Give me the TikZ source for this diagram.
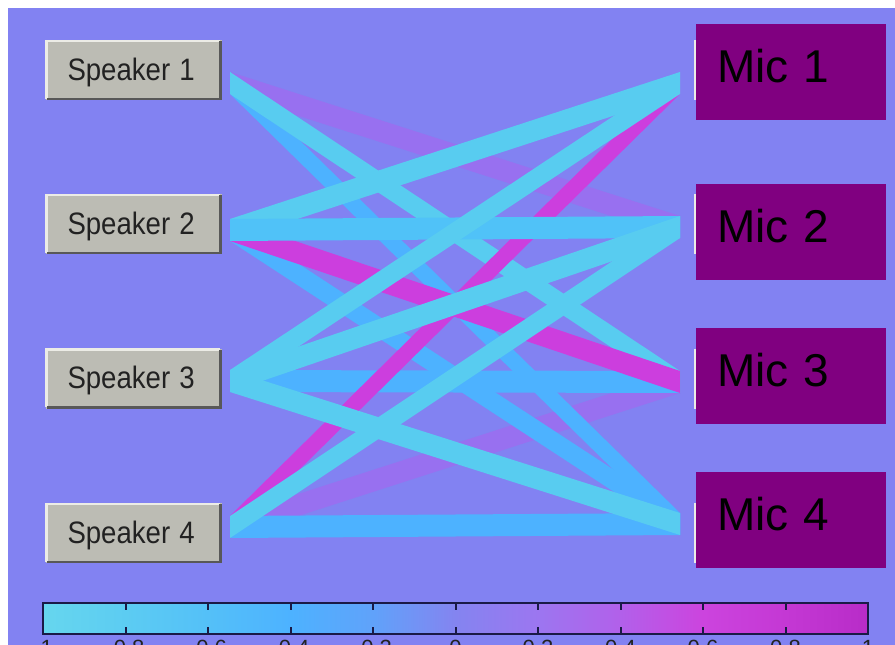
\documentclass[tikz,border=0pt]{standalone}
\usepackage{fontspec}
\usepackage{graphicx}
\setmainfont{Liberation Sans}
\usetikzlibrary{calc}

\definecolor{panelbg}{RGB}{130,130,242}
\definecolor{btnface}{RGB}{188,188,180}
\definecolor{btnlight}{RGB}{236,236,230}
\definecolor{btndark}{RGB}{88,88,88}
\definecolor{btntext}{RGB}{34,34,34}
\definecolor{micface}{RGB}{128,0,128}
\definecolor{bandcyan}{RGB}{88,204,240}
\definecolor{bandcyanh}{RGB}{80,194,248}
\definecolor{bandblue}{RGB}{77,178,255}
\definecolor{bandmag}{RGB}{204,62,222}
\definecolor{bandpurple}{RGB}{152,112,240}
\definecolor{cbedge}{RGB}{26,26,70}
% colour scale, -1 ... 1 in steps of 0.2
\definecolor{cA}{RGB}{102,214,238}
\definecolor{cB}{RGB}{92,204,242}
\definecolor{cC}{RGB}{84,192,248}
\definecolor{cD}{RGB}{77,178,255}
\definecolor{cE}{RGB}{96,162,250}
\definecolor{cF}{RGB}{132,132,240}
\definecolor{cG}{RGB}{156,118,240}
\definecolor{cH}{RGB}{178,96,234}
\definecolor{cI}{RGB}{204,68,222}
\definecolor{cJ}{RGB}{196,56,212}
\definecolor{cK}{RGB}{184,44,200}

% a band of constant vertical thickness between two ports
\newcommand\bandlink[3]{%
  \fill[#1] ($(#2)+(0,-11)$) -- ($(#3)+(0,-11)$) -- ($(#3)+(0,11)$) -- ($(#2)+(0,11)$) -- cycle;}

\begin{document}
\begin{tikzpicture}[x=1pt,y=-1pt,
  spk/.style={rectangle, fill=btnface, minimum width=176pt, minimum height=60pt,
    inner xsep=22pt, inner ysep=0pt, text width=132pt, align=left,
    text height=28pt, text depth=8pt, text=btntext,
    font=\fontsize{31}{31}\selectfont},
  mic/.style={rectangle, fill=micface, minimum width=190pt, minimum height=96pt,
    inner xsep=21pt, inner ysep=0pt, text width=148pt, align=left,
    text height=40pt, text depth=20pt, text=black,
    font=\fontsize{46}{46}\selectfont},
  hiddenedge/.style={draw=btnlight, line width=2pt},
  cbtick/.style={draw=cbedge, line width=2pt},
  cblabel/.style={anchor=north, inner sep=0pt, text=btntext, font=\fontsize{22}{22}\selectfont}]

\useasboundingbox (0,0) rectangle (895,645);
\clip (0,0) rectangle (895,645);
\fill[white] (0,0) rectangle (895,645);
\fill[panelbg] (8,8) rectangle (895,645);

% speaker buttons
\newcommand\spkbtn[3]{%
  \node[spk] (#1) at (133.5,#2) {\scalebox{0.89}[1]{#3}};
  \draw[btnlight, line width=2.5pt] ([shift={(1.25,-1.25)}]#1.south west) -- ([shift={(1.25,1.25)}]#1.north west) -- ([shift={(-1.25,1.25)}]#1.north east);
  \draw[btndark, line width=2.5pt] ([shift={(-1.25,1.25)}]#1.north east) -- ([shift={(-1.25,-1.25)}]#1.south east) -- ([shift={(1.25,-1.25)}]#1.south west);}
\spkbtn{sp1}{70}{Speaker 1}
\spkbtn{sp2}{224}{Speaker 2}
\spkbtn{sp3}{378.5}{Speaker 3}
\spkbtn{sp4}{533}{Speaker 4}

% edges of the buttons lying under the microphone labels
\foreach \yy in {70,224,378.5,533}
  \draw[hiddenedge] (694.5,\yy-30) -- (694.5,\yy+30);

% microphone labels
\node[mic] (mc1) at (791,72) {Mic 1};
\node[mic] (mc2) at (791,232) {Mic 2};
\node[mic] (mc3) at (791,376) {Mic 3};
\node[mic] (mc4) at (791,520) {Mic 4};

% band ports
\coordinate (s1) at (230,83);
\coordinate (s2) at (230,230);
\coordinate (s3) at (230,381);
\coordinate (s4) at (230,527);
\coordinate (m1) at (680,83);
\coordinate (m2) at (680,227);
\coordinate (m3) at (680,382);
\coordinate (m4) at (680,524);

% coupling bands, weakest first
\bandlink{bandpurple}{s1}{m2}
\bandlink{bandpurple}{s4}{m3}
\bandlink{bandblue}{s1}{m4}
\bandlink{bandblue}{s2}{m4}
\bandlink{bandblue}{s3}{m3}
\bandlink{bandblue}{s4}{m4}
\bandlink{bandcyan}{s1}{m3}
\bandlink{bandmag}{s2}{m3}
\bandlink{bandmag}{s4}{m1}
\bandlink{bandcyan}{s2}{m1}
\bandlink{bandcyanh}{s2}{m2}
\bandlink{bandcyan}{s3}{m1}
\bandlink{bandcyan}{s3}{m2}
\bandlink{bandcyan}{s3}{m4}
\bandlink{bandcyan}{s4}{m2}

% colour bar
\foreach \ca/\cb [count=\i from 0] in {cA/cB,cB/cC,cC/cD,cD/cE,cE/cF,cF/cG,cG/cH,cH/cI,cI/cJ,cJ/cK}
  \fill[left color=\ca, right color=\cb] ({43+82.5*\i},603) rectangle ({43+82.5*(\i+1)},634);
\draw[cbedge, line width=2pt] (43,603) rectangle (868,634);
\foreach \lab [count=\i from 0] in {-1,-0.8,-0.6,-0.4,-0.2,0,0.2,0.4,0.6,0.8,1}{
  \draw[cbtick] ({43+82.5*\i},603) -- ++(0,7);
  \draw[cbtick] ({43+82.5*\i},634) -- ++(0,-7);
  \node[cblabel] (tl\i) at ({43+82.5*\i},640) {\lab};
}
\end{tikzpicture}
\end{document}
